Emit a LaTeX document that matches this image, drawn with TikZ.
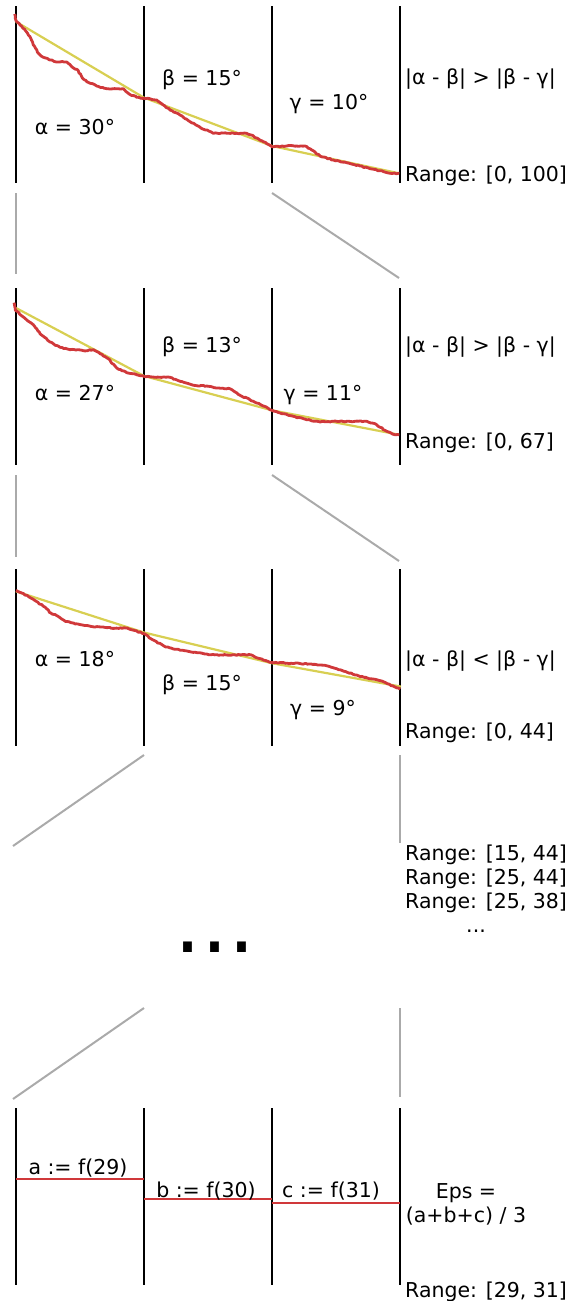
\documentclass[tikz,border=0pt]{standalone}
\usepackage{fontspec}
\setmainfont{DejaVu Sans}
\usepackage{xcolor}
\usepackage{tikz}
\usetikzlibrary{decorations.pathmorphing}
\definecolor{curveRed}{HTML}{D0383A}
\definecolor{fitYellow}{HTML}{D8CF52}
\definecolor{linkGray}{HTML}{AAAAAA}

\begin{document}
\begin{tikzpicture}[
  x=1pt, y=-1pt,
  every node/.style={font=\fontsize{20.5}{24}\selectfont, inner sep=0pt},
  label/.style={anchor=base},
  side/.style={anchor=base west},
  divider/.style={line width=2pt, black},
  link/.style={line width=2pt, color=linkGray},
  fit/.style={line width=2.2pt, color=fitYellow},
  noisy/.style={line width=2.8pt, color=curveRed, line join=round,
    decorate, decoration={random steps, segment length=2pt, amplitude=0.5pt}},
  level/.style={line width=2.2pt, color=curveRed}
]
\useasboundingbox (0,0) rectangle (569,1301);
\pgfmathsetseed{7}

% Trennlinien der vier Abschnitte
\foreach \top/\bot in {6/183, 288/465, 569/746, 1108/1285}
  \foreach \x in {16,144,272,400}
    \draw[divider] (\x,\top) -- (\x,\bot);

% Abschnitt 1
\draw[fit] (16,21.7) -- (144,97.7) -- (272,146) -- (399,173.3);
\draw[noisy] plot coordinates {(14.7,14) (16,20.7) (20,25) (25,30) (30,36.7) (33.3,45)
  (38.3,53.3) (43.3,57.3) (50,60) (58.3,62) (66.7,62) (71.7,66.7) (78.3,70.7) (81.7,76.7)
  (86.7,81.7) (96.7,86) (106.7,88.7) (123.3,88.7) (128.3,93.3) (136.7,97.3) (144,98.3)
  (150,98.7) (156.7,100) (163.3,105) (170,110) (180,115) (190,121.7) (200,127.3)
  (213.3,133.3) (226.7,133.3) (246.7,133.3) (253.3,136) (263.3,141.7) (272,146.7)
  (286.7,146) (305,146) (311.7,150) (320,156) (333.3,160) (346.7,162.7) (360,166)
  (370,168.7) (380,170.7) (390,173.3) (399.3,173.3)};
\node[label] (a1) at (75,134) {α = 30°};
\node[label] (b1) at (202,85) {β = 15°};
\node[label] (g1) at (329,109) {γ = 10°};
\node[side] (cmp1) at (405,84) {|α - β| > |β - γ|};
\node[side] (rng1) at (405,181) {Range: [0, 100]};

% Uebergang 1 -> 2
\coordinate (s1a) at (16,193);   \coordinate (e1a) at (16,274);
\coordinate (s1b) at (272,193);  \coordinate (e1b) at (399,278);
\draw[link] (s1a) -- (e1a);
\draw[link] (s1b) -- (e1b);

% Abschnitt 2
\draw[fit] (16,308) -- (144,376) -- (272,410.3) -- (399,434.7);
\draw[noisy] plot coordinates {(14,302.7) (15.3,310.3) (23.3,317) (33.3,324.7) (40,333.7)
  (50,342) (60,347.3) (70,349.7) (78.3,349.7) (83.3,350.7) (93.3,349.7) (100,353.7)
  (108.3,358.7) (116.7,368) (126.7,372.7) (136.7,374.7) (144,376.3) (160,377.3)
  (170,377.3) (180,381.3) (193.3,385.3) (206.7,386) (216.7,388) (230,388.7) (240,395.3)
  (253.3,401.3) (263.3,406) (272,410.3) (283.3,413.7) (293.3,416.3) (306.7,419.7)
  (320,422) (333.3,421.3) (346.7,421.3) (366.7,421.3) (376.7,424.7) (386.7,431.3)
  (393.3,434.3) (399.3,434.7)};
\node[label] (a2) at (75,400) {α = 27°};
\node[label] (b2) at (202,352) {β = 13°};
\node[label] (g2) at (323,400) {γ = 11°};
\node[side] (cmp2) at (405,352) {|α - β| > |β - γ|};
\node[side] (rng2) at (405,448) {Range: [0, 67]};

% Uebergang 2 -> 3
\coordinate (s2a) at (16,475);   \coordinate (e2a) at (16,557);
\coordinate (s2b) at (272,475);  \coordinate (e2b) at (399,561);
\draw[link] (s2a) -- (e2a);
\draw[link] (s2b) -- (e2b);

% Abschnitt 3
\draw[fit] (16,591.4) -- (144,632.5) -- (272,663.2) -- (401,686.6);
\draw[noisy] plot coordinates {(16,590.4) (21.8,593) (29.1,597) (36.4,601.4) (43.6,606.4)
  (50.9,613.1) (58.2,616.4) (65.5,621.4) (76.4,623.8) (90.9,626.4) (105.4,627.5)
  (116.4,628.1) (127.3,628.1) (134.5,630.5) (144.7,633.8) (152.7,639.8) (163.6,645.8)
  (174.5,649.2) (189.1,651.5) (210.9,654.8) (232.7,654.8) (250.9,654.8) (258.2,658.2)
  (272,662.5) (287.3,663.2) (309.1,663.9) (327.3,665.9) (334.5,668.2) (345.4,671.5)
  (360,676.5) (374.5,679.2) (385.5,682.6) (400,689.2)};
\node[label] (a3) at (75,666) {α = 18°};
\node[label] (b3) at (202,690) {β = 15°};
\node[label] (g3) at (323,715) {γ = 9°};
\node[side] (cmp3) at (405,666) {|α - β| < |β - γ|};
\node[side] (rng3) at (405,738) {Range: [0, 44]};

% Uebergang 3 -> ...
\coordinate (s3a) at (144,755);  \coordinate (e3a) at (13,846);
\coordinate (s3b) at (400,755);  \coordinate (e3b) at (400,843);
\draw[link] (s3a) -- (e3a);
\draw[link] (s3b) -- (e3b);

% Zwischenschritte
\node[side] (rng4) at (405,860) {Range: [15, 44]};
\node[side] (rng5) at (405,884) {Range: [25, 44]};
\node[side] (rng6) at (405,908) {Range: [25, 38]};
\node[label] (more) at (476,932) {...};
\node[label, font=\fontsize{85}{90}\selectfont] (dots) at (215,952) {...};

% Uebergang ... -> 4
\coordinate (s4a) at (144,1008); \coordinate (e4a) at (13,1099);
\coordinate (s4b) at (400,1008); \coordinate (e4b) at (400,1097);
\draw[link] (s4a) -- (e4a);
\draw[link] (s4b) -- (e4b);

% Abschnitt 4
\draw[level] (16,1179) -- (144,1179);
\draw[level] (144,1199) -- (272,1199);
\draw[level] (272,1203) -- (400,1203);
\node[label] (fa) at (78,1174) {a := f(29)};
\node[label] (fb) at (206,1197) {b := f(30)};
\node[label] (fc) at (331,1197) {c := f(31)};
\node[align=center] (eps) at (466,1204) {Eps =\\(a+b+c) / 3};
\node[side] (rng7) at (405,1297) {Range: [29, 31]};
\end{tikzpicture}
\end{document}
